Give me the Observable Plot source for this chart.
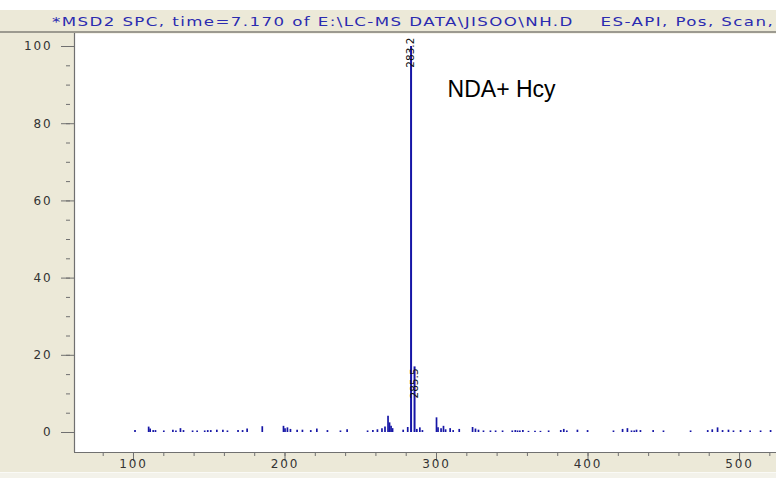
<!DOCTYPE html>
<html><head><meta charset="utf-8">
<script src="https://cdn.jsdelivr.net/npm/d3@7"></script>
<script src="https://cdn.jsdelivr.net/npm/@observablehq/plot@0.6"></script>
<style>
html,body{margin:0;padding:0;background:#fff;}
#wrap{width:776px;height:478px;position:relative;overflow:hidden;background:#ECE9D8;}
#topgap{height:10px;background:#fff;}
#title{height:21px;line-height:21px;border-bottom:2px solid #9c9a90;box-sizing:content-box;
  padding-left:52px;white-space:pre;overflow:hidden;}
#title span{display:inline-block;transform:scaleX(1.28);transform-origin:0 50%;
  font-family:"DejaVu Sans",sans-serif;font-size:13px;letter-spacing:1.1px;color:#2b2bb0;}
#chart svg{display:block;overflow:visible;}
g[aria-label$="tick label"]{letter-spacing:1.9px;}
#bottomline{position:absolute;left:0;top:472px;width:776px;height:6px;background:#f3f2ea;border-top:1px solid #fafaf6;}
</style></head>
<body>
<div id="wrap">
  <div id="topgap"></div>
  <div id="title"><span></span></div>
  <div id="chart"></div>
  <div id="bottomline"></div>
</div>
<script>
const titleText = "*MSD2 SPC, time=7.170 of E:\\LC-MS DATA\\JISOO\\NH.D    ES-API, Pos, Scan,";

// m/z values and relative abundance (%)
const mz  = [101,110,111,113,114.5,120,126,128,131,133,139,142,147,149,151,155,159,162,169,172,175,185,
             199,200,201.6,203.6,208,211.5,217,221,228,236.6,241,254.5,258,261,264,266,268,269,270,271,
             278,281,283.2,285.5,287,289,290.7,300,301,303,304.6,306,309,311,315,323.8,325.7,327.7,331,
             335.6,339,343.6,350,352,353.5,355,357,360.7,365,368.6,374,382,384,386,393,399.7,416.8,422.8,
             426,428.7,430.5,432,434.6,443,449.8,467.7,479,482,485.5,488.8,492.7,496,500.7,507,513.9,520.5];
const pct = [0.5,1.4,0.9,0.5,0.5,0.4,0.6,0.4,1.0,0.5,0.4,0.4,0.4,0.5,0.5,0.6,0.6,0.4,0.5,0.5,0.9,1.5,
             1.6,1.0,1.2,0.8,0.6,0.6,0.5,0.9,0.5,0.4,0.7,0.4,0.5,0.7,1.0,1.4,4.2,2.5,1.6,1.0,
             0.6,1.3,100,17,0.8,1.2,0.5,3.8,1.2,1.0,1.6,0.7,1.0,0.5,0.8,1.3,0.9,0.6,0.4,
             0.4,0.4,0.4,0.4,0.5,0.4,0.4,0.5,0.3,0.3,0.3,0.4,0.5,0.8,0.4,0.6,0.5,0.4,0.8,
             1.0,0.4,0.4,0.6,0.5,0.5,0.4,0.4,0.5,0.7,1.2,0.5,0.6,0.4,0.5,0.4,0.4,0.5];

const peakLabels    = ["283.2", "285.5"];
const peakLabelMz   = [283.2, 285.5];
const peakLabelPct  = [102.3, 16.6];

const annText = ["NDA+ Hcy"];
const annMz   = [307.3];
const annPct  = [88.9];

const xMajor = [100, 200, 300, 400, 500];
const xMinor = d3.range(80, 521, 20);
const yMajor = [0, 20, 40, 60, 80, 100];
const yMinor = d3.range(0, 101, 5);

const xDomain = [61.06, 524.4];
const yDomain = [-5.18, 103.37];

document.querySelector("#title span").textContent = titleText;

const spectrum = mz.map((m, i) => ({mz: m, pct: pct[i]}));
const peaks = peakLabels.map((t, i) => ({t, mz: peakLabelMz[i], pct: peakLabelPct[i]}));
const ann = annText.map((t, i) => ({t, mz: annMz[i], pct: annPct[i]}));

const blue = "#1616a6";
const axisGray = "#707070";

const chart = Plot.plot({
  width: 776, height: 445,
  marginTop: 0, marginRight: 0, marginBottom: 26, marginLeft: 74,
  style: {background: "transparent", fontFamily: "DejaVu Sans, sans-serif", fontSize: "12px", color: "#333", overflow: "visible"},
  x: {domain: xDomain, label: null},
  y: {domain: yDomain, label: null},
  marks: [
    Plot.frame({fill: "white", stroke: null}),
    Plot.ruleX(spectrum, {x: "mz", y1: 0, y2: "pct", stroke: blue, strokeWidth: d => d.pct > 10 ? 2 : 1.7}),
    Plot.text(peaks, {x: "mz", y: "pct", text: "t", rotate: -90, textAnchor: "end", fontSize: 10.5, fill: "#111"}),
    Plot.text(ann, {x: "mz", y: "pct", text: "t", textAnchor: "start", fontFamily: "Liberation Sans, Arial, sans-serif", fontSize: 23, fill: "#000"}),
    Plot.ruleX([xDomain[0]], {stroke: axisGray, strokeWidth: 1.2}),
    Plot.ruleY([yDomain[0]], {stroke: axisGray, strokeWidth: 1.2}),
    Plot.axisY(yMinor, {tickSize: 4, dx: -4, text: null, stroke: axisGray, label: null}),
    Plot.axisY(yMajor, {tickSize: 13, text: null, stroke: axisGray, label: null}),
    Plot.axisY(yMajor, {tickSize: 0, tickPadding: 22, fill: "#333", label: null}),
    Plot.axisX(xMinor, {tickSize: 4, text: null, stroke: axisGray, label: null}),
    Plot.axisX(xMajor, {tickSize: 9, text: null, stroke: axisGray, label: null}),
    Plot.axisX(xMajor, {tickSize: 0, tickPadding: 7, fill: "#333", label: null})
  ]
});
document.getElementById("chart").append(chart);
</script>
</body></html>
